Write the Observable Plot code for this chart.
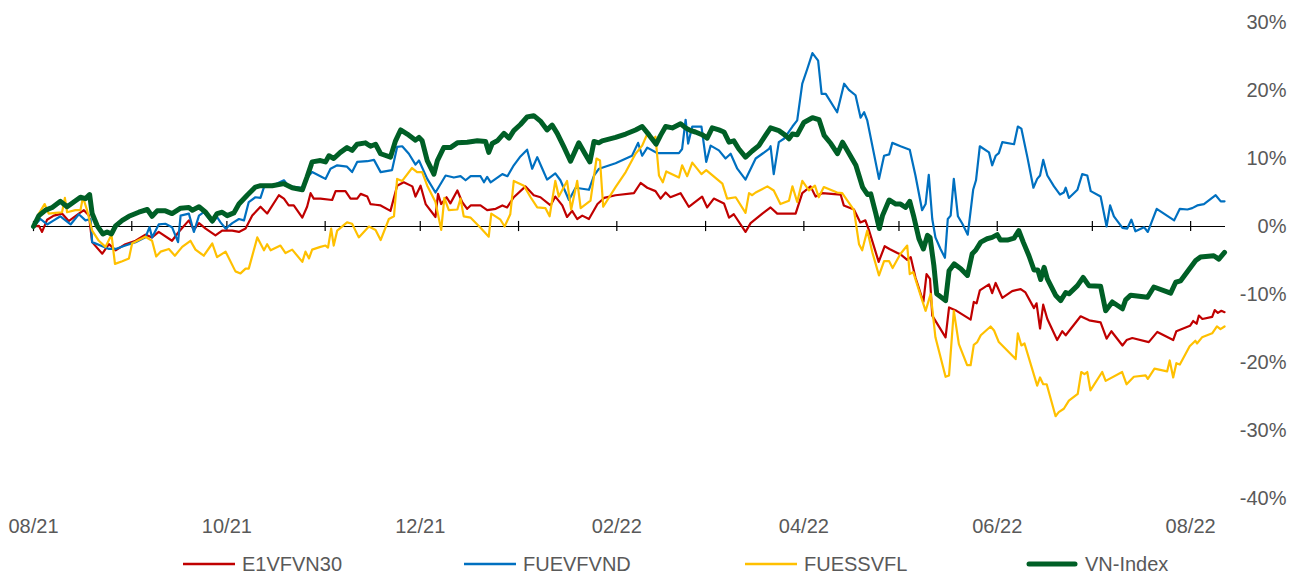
<!DOCTYPE html>
<html>
<head>
<meta charset="utf-8">
<script src="https://cdn.jsdelivr.net/npm/d3@7"></script>
<script src="https://cdn.jsdelivr.net/npm/@observablehq/plot@0.6"></script>
<style>
  html, body { margin: 0; padding: 0; background: #fff; }
  body { font-family: "Liberation Sans", Arial, sans-serif; }
  #wrap { position: relative; width: 1294px; height: 574px; overflow: hidden; }
  #legend { position: absolute; left: 183px; top: 550px; height: 28px; display: flex; }
  .item { width: 281px; display: flex; align-items: center; font-size: 20px; color: #595959; white-space: nowrap; }
  .item svg { margin-right: 7px; }
</style>
</head>
<body>
<div id="wrap">
  <div id="chart"></div>
  <div id="legend"></div>
</div>
<script>
// Series values: [days since 2021-08-01, cumulative change in %]
const e1vfvn30 = [[0,0],[1.7,0.1],[2.7,-0.8],[4.3,1.0],[6.4,1.6],[9,1.9],[11.1,0.8],[14.3,1.9],[15.9,2.4],[17.5,1.6],[18.5,-2.3],[21.7,-4.0],[23.8,-2.6],[25.9,-3.5],[29,-2.6],[32.2,-2.1],[35.3,-1.2],[37.4,-1.6],[39.5,-0.8],[43.7,-2.1],[45.8,-0.8],[49,0.9],[50.6,-0.5],[52.2,0.5],[54.3,-0.3],[57.4,-1.3],[59.5,-0.6],[62.7,-0.6],[64.8,-0.8],[66.9,-0.3],[69,1.6],[71.6,2.9],[73.7,1.9],[77.4,4.6],[79,4.1],[80.5,3.1],[82.1,3.1],[84.8,1.3],[86.3,2.9],[87.4,4.9],[88.4,4.1],[90.5,4.1],[94.2,3.9],[95.3,5.2],[98.4,5.2],[100,4.1],[102.1,4.1],[103.2,4.8],[105.3,4.4],[106.3,3.3],[107.9,3.2],[109.5,3.1],[112.6,2.3],[114.7,6.0],[116.8,6.5],[119.5,5.9],[120.5,4.4],[122.1,6.0],[123.7,3.3],[126.8,1.4],[127.6,4.8],[128.6,3.3],[130.3,4.3],[131.5,3.4],[133.7,5.3],[135.2,3.6],[136.8,2.6],[137.9,3.1],[141,3.1],[143.1,2.4],[145.8,2.6],[147.9,3.1],[149.4,2.8],[151.5,4.3],[155.2,5.9],[157.8,4.6],[159.9,4.3],[163.1,3.1],[164.6,4.4],[166.8,3.1],[168.3,1.4],[169.9,2.3],[171.5,1.1],[173.1,1.6],[175.2,1.1],[177.9,3.3],[180,4.2],[183.6,4.6],[189.4,4.9],[191.5,6.4],[193.6,5.7],[196.2,5.2],[197.8,4.1],[199.4,5.0],[200.9,4.3],[204.1,4.9],[206.7,2.9],[210.9,4.4],[212.5,2.8],[214.6,4.1],[217.8,3.4],[219.4,1.3],[220.9,1.8],[224.6,-0.8],[226.2,0.5],[229.9,1.9],[232.5,2.8],[234.6,1.9],[240.4,1.9],[242.5,4.9],[245.1,5.9],[246.7,4.4],[248.8,4.9],[254.6,4.7],[255.6,3.1],[258.8,2.5],[260.8,0.6],[262.4,0.9],[263.5,-0.5],[266.6,-5.2],[268.5,-2.9],[270,-3.3],[272.5,-3.9],[273.5,-4.1],[275.6,-4.9],[276.7,-4.5],[278.2,-7.5],[280.7,-11.1],[281.7,-7.0],[282.8,-7.7],[283.5,-13.1],[287.7,-16.3],[288.8,-11.9],[290.8,-12.3],[295.6,-13.7],[296.6,-11.1],[297.5,-11.3],[298.5,-9.4],[301.4,-8.5],[302.4,-9.8],[303.5,-8.3],[305.6,-10.5],[308.7,-9.5],[311.4,-9.2],[312.9,-9.7],[315.6,-12.0],[316.4,-11.3],[317.5,-15.0],[318.5,-11.5],[319.8,-13.6],[322.9,-16.7],[324.5,-15.4],[325.6,-16.0],[330.3,-13.2],[333,-13.8],[336.6,-14.1],[338.5,-16.5],[340,-15.4],[343.5,-17.5],[344.8,-16.7],[346.6,-16.4],[351.8,-17.0],[354.5,-15.5],[359.5,-16.7],[360.5,-15.4],[364.8,-14.6],[365.8,-13.9],[366.9,-14.3],[367.6,-13.1],[368.7,-13.6],[371.8,-13.3],[372.6,-12.3],[373.6,-12.7],[374.7,-12.4],[375.7,-12.6]];

const fuevfvnd = [[0,0],[2.2,1.1],[4.3,0.3],[6.4,0.9],[8.5,1.5],[11.7,0.3],[14.3,1.8],[16.4,0.9],[18,1.1],[18.5,-2.3],[21.7,-2.9],[23.8,-3.3],[25.9,-3.3],[29,-2.8],[32.2,-2.3],[35.3,-1.6],[36.6,-0.1],[37.4,-1.6],[39.5,0.3],[41.6,0.4],[43.7,-0.1],[45.6,-2.3],[46.4,1.6],[49,1.9],[50.6,-0.8],[52.2,1.6],[53.7,2.1],[56.4,0.6],[57.9,1.4],[59,0.6],[60.6,-0.3],[62.7,0.5],[64.8,1.1],[66.4,0.9],[67.9,3.6],[70,4.3],[71.6,4.2],[72.7,5.8],[75.3,6.0],[79,6.8],[80.5,5.9],[84.8,5.7],[86.9,7.5],[87.9,8.0],[90.5,7.4],[92.1,7.0],[93.7,8.5],[95.8,9.0],[98.9,8.8],[100.5,8.0],[102.1,9.5],[105.3,9.6],[107.4,9.8],[109.5,8.0],[113.1,8.3],[114.7,11.7],[116.3,11.8],[118.4,10.7],[120.5,9.1],[121.6,9.7],[124.2,7.0],[126.8,5.0],[130,7.5],[132.6,7.2],[134.7,7.4],[136.3,6.8],[137.9,7.4],[141,7.4],[142.1,6.5],[143.1,7.3],[144.2,6.5],[147.9,7.7],[149.5,7.4],[151.5,9.0],[153.6,10.3],[155.7,11.3],[157.3,8.5],[158.9,10.2],[160.5,8.5],[162,6.9],[164.6,7.8],[166.2,6.8],[168.9,3.9],[171,5.7],[175.2,5.4],[176.8,7.5],[178.4,8.5],[183.6,9.3],[188.8,10.4],[190.7,12.3],[192,10.4],[193.6,11.6],[196.7,10.8],[203.6,10.8],[204.6,11.4],[205.7,15.7],[206.5,12.2],[207.8,14.7],[210.7,14.7],[212.2,9.5],[213.6,11.9],[216.2,11.2],[218.3,10.0],[219.9,10.7],[222,8.5],[224.6,6.9],[227.8,10.0],[229.9,10.7],[232,11.4],[232.5,11.8],[233.5,7.7],[235.1,12.4],[236.7,12.9],[239.4,14.7],[240.9,15.6],[242.5,21.0],[244.1,23.2],[245.7,25.5],[247.5,24.4],[248.6,19.5],[249.9,19.5],[253.5,16.8],[255.7,21.0],[257.2,20.1],[259.3,19.3],[260.9,16.0],[262,16.8],[263,15.6],[266.7,7.0],[268.3,10.4],[269.9,10.6],[270.9,12.3],[273.5,11.8],[276.4,11.3],[278.2,7.5],[280.3,2.4],[281.4,3.3],[282.4,7.6],[283.5,1.1],[284.5,-1.6],[286.1,-3.3],[287.5,-4.6],[288.4,1.1],[289.3,1.6],[290.3,7.0],[291.6,1.5],[293,0.4],[294.7,-1.2],[296.4,5.4],[297.3,6.8],[298.5,11.8],[301.4,10.9],[302.4,9.0],[303.5,10.4],[304.5,10.8],[305.6,12.4],[309.3,12.1],[310.5,14.7],[311.6,14.4],[313.5,10.2],[315.4,5.7],[316.6,7.0],[317.5,7.5],[318.5,9.8],[319.8,7.5],[321.9,5.9],[323.8,4.7],[325,5.0],[325.6,5.7],[326.6,4.2],[329.3,5.4],[330.8,7.7],[332.4,7.5],[333.5,5.2],[336.6,4.4],[338.5,0],[339.6,3.1],[340.8,1.5],[343.5,-0.2],[345,-0.3],[346.3,1.0],[347.6,-0.7],[350.3,-0.1],[351.5,-0.8],[354.3,2.6],[359.8,0.9],[361.6,2.6],[364,2.5],[365.5,2.7],[367.1,3.1],[369.2,3.3],[372.9,4.6],[374.5,3.7],[375.7,3.7]];

const fuessvfl = [[0,0],[1.7,1.9],[3.5,3.3],[4.8,1.9],[6.9,2.0],[9,2.1],[9.9,4.2],[10.6,2.1],[13.2,2.4],[14.8,2.4],[15.6,4.3],[16.9,2.4],[18.5,-0.6],[20.6,-2.1],[22.7,-3.0],[24.6,-1.2],[25.7,-5.5],[28,-5.1],[30.1,-4.7],[31.1,-2.5],[33.2,-2.0],[35.3,-1.5],[37.4,-2.1],[38.7,-4.4],[40.1,-3.7],[42.7,-3.3],[44.6,-4.3],[46.9,-3.0],[49.5,-2.1],[51.1,-3.4],[53.7,-4.3],[56.4,-2.5],[57.9,-4.5],[60.6,-3.7],[63.7,-6.6],[65.3,-6.9],[66.9,-6.2],[67.9,-6.2],[70.6,-1.6],[72.7,-3.5],[73.7,-2.6],[74.8,-3.5],[77.9,-2.8],[79.5,-3.9],[81.6,-3.4],[84.8,-5.2],[85.8,-3.7],[86.9,-4.7],[87.9,-3.4],[90.5,-3.0],[92.1,-2.8],[92.9,-3.1],[93.9,-0.3],[94.7,-2.8],[95.8,-0.6],[98.9,0.6],[100.5,0.4],[102.6,-1.6],[105.8,0],[107.9,-0.5],[109.5,-2.0],[112.1,1.1],[113.7,1.5],[114.7,7.0],[116.3,6.7],[119.4,8.6],[121,8.0],[122.6,8.0],[124.2,6.0],[126.8,3.6],[128.6,-0.5],[129.6,4.2],[131,2.4],[133.7,2.5],[134.7,4.1],[135.7,1.5],[137.9,1.3],[141,-0.2],[143.6,-1.5],[144.4,1.9],[147.3,1.0],[148.6,0],[150.4,1.8],[151.5,6.7],[154.7,6.0],[156.8,4.3],[158.9,2.8],[161.5,2.7],[162.8,1.5],[164.6,6.7],[165.7,4.4],[168.3,6.7],[169.6,2.5],[171.5,6.7],[172.6,2.7],[175.7,3.8],[177.6,10.0],[178.7,9.7],[179.7,2.9],[183.6,5.8],[186.8,8.0],[189.9,10.7],[192,11.9],[193.6,13.6],[195.2,12.7],[196.2,13.2],[197.3,7.5],[198.5,6.5],[199.6,8.1],[203.6,7.2],[204.6,9.0],[206.2,7.4],[207.8,9.4],[210.7,7.7],[212.2,8.3],[217.3,6.3],[218.8,4.1],[221.5,4.3],[224.6,2.0],[225.7,4.9],[226.7,4.6],[227.8,5.0],[231.5,5.9],[233.5,5.3],[235.6,3.3],[238.3,3.8],[239.4,5.9],[240.9,3.6],[242.5,6.7],[244.6,5.3],[246.5,6.0],[247.7,4.3],[249.3,5.8],[253.5,5.0],[255.1,4.9],[258.8,2.4],[260.4,-2.6],[261.4,-3.5],[263,-0.6],[264.6,-3.8],[266.7,-7.2],[268.3,-5.1],[269.9,-5.1],[271,-6.1],[273.5,-4.0],[275.6,-2.8],[276.4,-7.0],[277.5,-6.7],[279.8,-10.1],[281.4,-12.4],[283,-9.9],[284.5,-16.3],[287.7,-22.1],[288.8,-21.9],[290.3,-12.4],[291.9,-17.3],[294.5,-20.4],[295.6,-20.4],[296.6,-17.4],[297.7,-17.0],[298.8,-16.0],[301.9,-14.7],[303,-15.3],[304.5,-17.0],[309.8,-19.5],[310.5,-15.7],[311.6,-17.5],[312.6,-17.2],[316.6,-23.4],[317.5,-22.2],[318.5,-23.2],[319.6,-23.2],[322.4,-27.9],[323.4,-27.3],[325,-26.8],[326.6,-25.6],[329.4,-24.6],[330.5,-21.4],[331.5,-21.7],[332.4,-21.4],[333.4,-24.1],[337.1,-21.4],[338.2,-22.7],[343.4,-21.4],[344.8,-23.2],[347.1,-22.1],[350.8,-21.9],[351.5,-22.4],[353.6,-20.9],[357.6,-21.3],[358.4,-19.7],[359.5,-22.2],[360.5,-20.1],[361.6,-20.3],[364.7,-17.6],[366.5,-16.8],[367,-17.2],[368.6,-16.3],[371.8,-15.7],[373.3,-14.7],[374.4,-15.1],[375.7,-14.7]];

const vnIndex = [[0,0],[1.7,1.6],[3.8,2.4],[5.9,2.8],[8.5,3.7],[10.6,2.9],[12.7,3.6],[14.8,4.3],[16.4,4.1],[17.7,4.7],[18.5,1.9],[20.1,0.1],[21.9,-1.1],[23.2,-0.8],[24.6,-1.1],[25.9,0.1],[28,0.9],[30.1,1.5],[33.2,2.1],[35.9,2.5],[37.4,1.5],[39,2.3],[41.6,2.3],[43.7,1.9],[46.4,2.7],[49,2.8],[50.1,2.4],[52.2,2.9],[54.3,2.1],[56.4,0.8],[57.9,1.9],[59.5,2.1],[61.1,1.6],[63.2,2.0],[64.8,3.3],[67.4,4.6],[70,5.8],[71.6,6.0],[75.3,6.0],[79,6.3],[81.6,5.7],[84.8,5.4],[86.3,7.3],[87.9,9.5],[90.5,9.7],[92.1,9.5],[93.2,10.4],[94.7,10.0],[96.8,10.9],[98.9,11.6],[100.5,11.2],[102.1,12.1],[104.7,12.3],[106.3,11.8],[107.9,12.1],[109.5,10.7],[112.6,10.2],[114.2,12.6],[115.8,14.2],[117.9,13.6],[120.5,12.7],[121.6,13.1],[122.6,12.6],[124.2,9.7],[126.3,7.7],[127.4,9.7],[129.4,11.6],[131.5,11.6],[133.7,12.3],[136.8,12.4],[140,12.6],[142.6,12.5],[143.6,10.9],[144.7,12.2],[146.3,12.6],[148.4,13.7],[150,13.0],[151.5,14.1],[153.6,15.0],[155.7,16.1],[157.8,16.3],[159.9,15.5],[162,14.2],[163.6,14.9],[165.2,13.7],[167.3,11.7],[169.4,9.6],[172,12.3],[174.1,10.6],[175.5,9.5],[176.8,12.5],[178.3,12.3],[179.4,12.6],[183.6,13.1],[186.8,13.6],[189.9,14.2],[192,14.7],[194.1,13.5],[196.4,12.1],[197.8,13.4],[199.4,14.7],[201.5,14.5],[204.1,15.1],[205.7,14.5],[207.3,14.1],[208.8,13.9],[210.9,13.5],[212.5,13.0],[214.1,14.5],[216.2,14.2],[217.8,13.9],[219.4,12.4],[220.9,12.6],[222.5,11.4],[224.6,10.2],[226.7,11.1],[228.8,11.9],[230.9,13.4],[232.5,14.5],[235.1,14.1],[237.2,13.4],[238.3,12.9],[239.4,13.6],[240.9,13.5],[243,15.3],[245.7,16.0],[247.8,15.7],[249.4,13.4],[251.5,12.2],[253.6,10.7],[255.2,12.4],[257.3,10.7],[259.4,9.0],[261.5,5.8],[263.1,4.7],[264.1,4.8],[265.7,1.9],[266.8,-0.3],[267.8,1.6],[269.9,3.9],[272,3.3],[273.5,3.3],[275.1,2.8],[276.4,3.7],[277.7,1.4],[279.3,-1.8],[280.7,-3.3],[282,-1.3],[282.8,-1.6],[284,-5.7],[284.9,-9.9],[287.7,-10.9],[288.8,-6.5],[290.4,-5.5],[292.5,-6.2],[294.6,-7.2],[296.1,-4.0],[297.2,-3.5],[298.8,-2.3],[300.8,-1.8],[302.4,-1.6],[304,-1.2],[305,-2.0],[307.2,-2.0],[309.3,-1.7],[310.8,-0.6],[312.2,-2.3],[314,-4.3],[315.6,-6.4],[316.8,-6.4],[317.7,-7.8],[318.8,-6.0],[319.8,-7.7],[322.4,-10.1],[324,-10.9],[325.6,-9.7],[326.6,-9.9],[329.3,-8.7],[331.1,-7.5],[332.9,-8.7],[336.6,-8.8],[338.2,-12.4],[340.3,-11.1],[343.5,-12.1],[344.5,-10.8],[346.1,-10.1],[351.4,-10.4],[353.4,-8.9],[358.7,-9.8],[360.3,-8.2],[361.8,-8.0],[363.9,-6.7],[366.6,-5.0],[368.1,-4.5],[372.3,-4.3],[373.9,-4.8],[375.7,-3.8]];

const seriesNames = ["E1VFVN30", "FUEVFVND", "FUESSVFL", "VN-Index"];
const seriesData = [e1vfvn30, fuevfvnd, fuessvfl, vnIndex];
const seriesColors = ["#C00000", "#0070C0", "#FFC000", "#005F26"];
const seriesWidths = [2.2, 2.2, 2.2, 5];
const yTicks = [-40, -30, -20, -10, 0, 10, 20, 30];
const startDate = new Date(Date.UTC(2021, 7, 1));
const endDay = 376;

const toDate = d => new Date(startDate.getTime() + d * 86400000);
const endDate = toDate(endDay);
const monthTicks = d3.utcMonth.range(startDate, endDate);
const labelTicks = d3.utcMonth.range(startDate, endDate, 2);

const lineMarks = seriesData.map((s, i) =>
  Plot.line(s.map(([d, v]) => ({date: toDate(d), value: v})), {
    x: "date", y: "value",
    stroke: seriesColors[i], strokeWidth: seriesWidths[i],
    strokeLinejoin: "round", strokeLinecap: "round"
  })
);

const chart = Plot.plot({
  width: 1294,
  height: 540,
  marginLeft: 33,
  marginRight: 69,
  marginTop: 22,
  marginBottom: 42,
  style: {fontFamily: "'Liberation Sans', Arial, sans-serif", fontSize: "20px", color: "#595959", background: "#fff", overflow: "visible"},
  x: {type: "utc", domain: [startDate, endDate]},
  y: {domain: [-40, 30]},
  marks: [
    Plot.axisX({ticks: labelTicks, tickFormat: d3.utcFormat("%m/%y"), tickSize: 0, tickPadding: 20, fontSize: 20, fill: "#595959", label: null}),
    Plot.axisY({anchor: "right", ticks: yTicks, tickFormat: d => d + "%", tickSize: 0, tickPadding: 61, textAnchor: "end", fontSize: 20, fill: "#595959", label: null}),
    Plot.ruleY([0], {stroke: "#000", strokeWidth: 1.2}),
    Plot.ruleX(monthTicks, {x: d => d, y1: -0.75, y2: 0.75, stroke: "#000", strokeWidth: 1.2}),
    ...lineMarks
  ]
});
document.getElementById("chart").appendChild(chart);

const legend = document.getElementById("legend");
seriesNames.forEach((name, i) => {
  const item = document.createElement("div");
  item.className = "item";
  item.innerHTML = `<svg width="52" height="10"><line x1="${seriesWidths[i] > 3 ? 3 : 0}" x2="${seriesWidths[i] > 3 ? 49 : 52}" y1="5" y2="5" stroke="${seriesColors[i]}" stroke-width="${seriesWidths[i] > 3 ? 5 : 2.5}" stroke-linecap="${seriesWidths[i] > 3 ? "round" : "butt"}"/></svg><span>${name}</span>`;
  legend.appendChild(item);
});
</script>
</body>
</html>
